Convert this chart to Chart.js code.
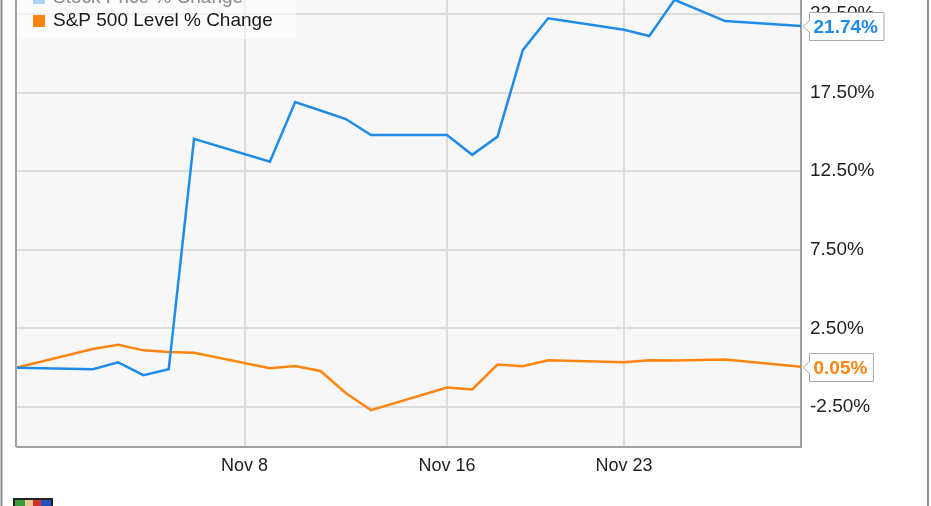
<!DOCTYPE html>
<html>
<head>
<meta charset="utf-8">
<script src="https://cdn.jsdelivr.net/npm/chart.js@4/dist/chart.umd.min.js"></script>
<style>
  body { margin: 0; background: #fff; }
  #wrap { position: relative; width: 931px; height: 506px; overflow: hidden; }
  #chart { position: absolute; left: 0; top: -40px; }
</style>
</head>
<body>
<div id="wrap"><canvas id="chart" width="931" height="546"></canvas></div>
<script>
// trading days, Oct 30 - Nov 30 2015
const dates = ["2015-10-30", "2015-11-02", "2015-11-03", "2015-11-04", "2015-11-05", "2015-11-06",
  "2015-11-09", "2015-11-10", "2015-11-11", "2015-11-12", "2015-11-13", "2015-11-16", "2015-11-17",
  "2015-11-18", "2015-11-19", "2015-11-20", "2015-11-23", "2015-11-24", "2015-11-25", "2015-11-27",
  "2015-11-30"];
const stockChange = [0, -0.1, 0.34, -0.48, -0.1, 14.56, 13.1, 16.9, 16.36, 15.82, 14.8, 14.8, 13.54,
  14.7, 20.2, 22.23, 21.5, 21.1, 23.4, 22.05, 21.74];
const spChange = [0, 1.19, 1.46, 1.10, 0.99, 0.95, -0.04, 0.11, -0.21, -1.61, -2.71, -1.26, -1.39,
  0.20, 0.09, 0.47, 0.35, 0.47, 0.46, 0.52, 0.05];
const seriesNames = ["Stock Price % Change", "S&P 500 Level % Change"];
const seriesColors = ["#1f8ceb", "#ff8410"];
const xTickDates = ["2015-11-08", "2015-11-16", "2015-11-23"];
const xTickLabels = ["Nov 8", "Nov 16", "Nov 23"];
const yTicks = [-2.5, 2.5, 7.5, 12.5, 17.5, 22.5];

const FONT = "'Liberation Sans', Arial, sans-serif";

function dayIndex(d) {
  return (Date.parse(d) - Date.parse(dates[0])) / 86400000;
}

function toPoints(values) {
  return values.map((v, i) => ({ x: dayIndex(dates[i]), y: v }));
}

/* plot background, legend, end callouts, frame */
const decorations = {
  id: "decorations",
  beforeDraw(chart) {
    const { ctx, chartArea: a } = chart;
    ctx.save();
    ctx.fillStyle = "#f7f7f7";
    ctx.fillRect(a.left, a.top, a.right - a.left, a.bottom - a.top);
    ctx.restore();
  },
  afterDraw(chart) {
    const { ctx, chartArea: a } = chart;
    ctx.save();

    // left plot border
    ctx.strokeStyle = "#a0a0a0";
    ctx.lineWidth = 2;
    ctx.beginPath();
    ctx.moveTo(a.left - 1, a.top);
    ctx.lineTo(a.left - 1, a.bottom);
    ctx.stroke();

    // legend box
    ctx.fillStyle = "rgba(255,255,255,0.6)";
    ctx.fillRect(a.left, a.top, 279, 79 - a.top);
    ctx.font = "19px " + FONT;
    ctx.textBaseline = "middle";
    chart.data.datasets.forEach((ds, i) => {
      const cy = 38 + i * 23;
      ctx.fillStyle = i === 0 ? "#aad3f7" : ds.borderColor;
      ctx.fillRect(33, cy - 6, 12, 12);
      ctx.fillStyle = i === 0 ? "#888" : "#1a1a1a";
      ctx.fillText(ds.label, 53, cy);
    });

    // last value callouts
    const yScale = chart.scales.y;
    ctx.font = "bold 19px " + FONT;
    chart.data.datasets.forEach(ds => {
      const last = ds.data[ds.data.length - 1].y;
      const yc = Math.round(yScale.getPixelForValue(last)) + 0.5;
      const txt = last.toFixed(2) + "%";
      const tw = ctx.measureText(txt).width;
      const left = a.right + 8.5, right = left + tw + 10, top = yc - 14, bottom = yc + 14;
      ctx.beginPath();
      ctx.moveTo(a.right + 2, yc);
      ctx.lineTo(left, yc - 6);
      ctx.lineTo(left, top);
      ctx.lineTo(right, top);
      ctx.lineTo(right, bottom);
      ctx.lineTo(left, bottom);
      ctx.lineTo(left, yc + 6);
      ctx.closePath();
      ctx.fillStyle = "#fff";
      ctx.fill();
      ctx.strokeStyle = "#a8a8a8";
      ctx.lineWidth = 1;
      ctx.stroke();
      ctx.fillStyle = ds.borderColor;
      ctx.textAlign = "left";
      ctx.fillText(txt, left + 4, yc + 1);
    });

    // outer frame
    ctx.strokeStyle = "#8c8c8c";
    ctx.lineWidth = 2;
    ctx.beginPath();
    ctx.moveTo(1.5, 0); ctx.lineTo(1.5, chart.height);
    ctx.moveTo(928, 0); ctx.lineTo(928, chart.height);
    ctx.stroke();

    // small logo at bottom left
    ctx.fillStyle = "#222";
    ctx.fillRect(13, 538, 40, 8);
    ctx.fillStyle = "#3a9a3a"; ctx.fillRect(15, 540, 10, 6);
    ctx.fillStyle = "#e8c890"; ctx.fillRect(25, 540, 8, 6);
    ctx.fillStyle = "#d03030"; ctx.fillRect(33, 540, 8, 6);
    ctx.fillStyle = "#2050c0"; ctx.fillRect(41, 540, 10, 6);
    ctx.restore();
  }
};

new Chart(document.getElementById("chart"), {
  type: "line",
  data: {
    datasets: [
      {
        label: seriesNames[0],
        data: toPoints(stockChange),
        borderColor: seriesColors[0],
        borderWidth: 2.5,
        pointRadius: 0,
        tension: 0
      },
      {
        label: seriesNames[1],
        data: toPoints(spChange),
        borderColor: seriesColors[1],
        borderWidth: 2.5,
        pointRadius: 0,
        tension: 0
      }
    ]
  },
  options: {
    responsive: false,
    animation: false,
    devicePixelRatio: 1,
    layout: { padding: { left: 17, top: 13, right: 0, bottom: 0 } },
    plugins: { legend: { display: false }, tooltip: { enabled: false } },
    scales: {
      x: {
        type: "linear",
        min: 0,
        max: dayIndex(dates[dates.length - 1]),
        afterBuildTicks: scale => {
          scale.ticks = xTickDates.map(d => ({ value: dayIndex(d) }));
        },
        afterFit: scale => { scale.height = 59; },
        ticks: {
          autoSkip: false,
          maxRotation: 0,
          padding: 8,
          color: "#222",
          font: { family: FONT, size: 18 },
          callback: (v, i) => xTickLabels[i]
        },
        grid: { color: "#dcdcdc", lineWidth: 2, drawTicks: false },
        border: { display: true, color: "#a0a0a0", width: 2 }
      },
      y: {
        position: "right",
        min: -5.05,
        max: 24.64,
        afterBuildTicks: scale => {
          scale.ticks = yTicks.map(v => ({ value: v }));
        },
        afterFit: scale => { scale.width = 130; },
        ticks: {
          padding: 9,
          color: "#222",
          font: { family: FONT, size: 19 },
          callback: v => v.toFixed(2) + "%"
        },
        grid: { color: "#dcdcdc", lineWidth: 2, drawTicks: false },
        border: { display: true, color: "#a0a0a0", width: 2 }
      }
    }
  },
  plugins: [decorations]
});
</script>
</body>
</html>
